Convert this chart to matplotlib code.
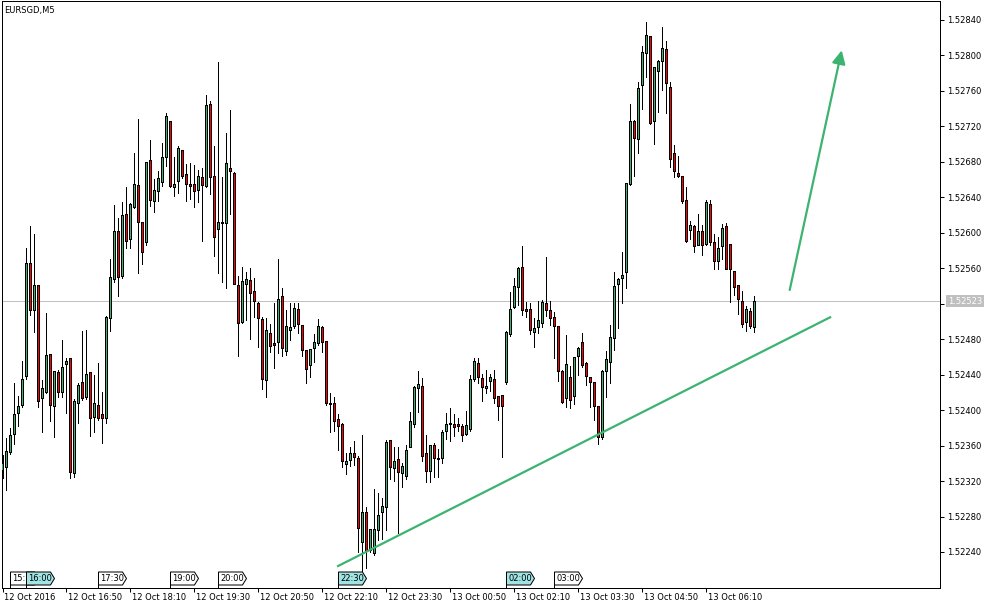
import matplotlib
matplotlib.use("Agg")
import matplotlib.pyplot as plt
import matplotlib.transforms as mtransforms
from matplotlib.patches import Polygon
import numpy as np

# EURSGD M5 캔들 (12 Oct 15:30 부터 5분봉)
symbol = "EURSGD,M5"

opens = [
    1.52332, 1.52335, 1.52352, 1.52372, 1.52396, 1.52405, 1.52438, 1.52565, 1.52512, 1.52540,
    1.52413, 1.52420, 1.52463, 1.52404, 1.52442, 1.52420, 1.52452, 1.52458, 1.52329, 1.52407,
    1.52431, 1.52414, 1.52442, 1.52392, 1.52405, 1.52395, 1.52390, 1.52503, 1.52547, 1.52602,
    1.52551, 1.52621, 1.52592, 1.52629, 1.52653, 1.52612, 1.52589, 1.52681, 1.52635, 1.52647,
    1.52657, 1.52685, 1.52726, 1.52651, 1.52658, 1.52693, 1.52666, 1.52654, 1.52655, 1.52648,
    1.52662, 1.52652, 1.52745, 1.52663, 1.52604, 1.52612, 1.52610, 1.52673, 1.52667, 1.52540,
    1.52499, 1.52542, 1.52546, 1.52534, 1.52520, 1.52502, 1.52433, 1.52486, 1.52475, 1.52476,
    1.52528, 1.52466, 1.52490, 1.52494, 1.52514, 1.52496, 1.52467, 1.52450, 1.52469, 1.52475,
    1.52493, 1.52477, 1.52408, 1.52408, 1.52389, 1.52384, 1.52339, 1.52343, 1.52351, 1.52346,
    1.52251, 1.52285, 1.52242, 1.52238, 1.52264, 1.52285, 1.52290, 1.52366, 1.52334, 1.52344,
    1.52328, 1.52325, 1.52358, 1.52384, 1.52424, 1.52427, 1.52351, 1.52331, 1.52360, 1.52344,
    1.52345, 1.52376, 1.52384, 1.52384, 1.52384, 1.52381, 1.52373, 1.52378, 1.52434, 1.52453,
    1.52436, 1.52424, 1.52432, 1.52435, 1.52415, 1.52416, 1.52431, 1.52485, 1.52516, 1.52538,
    1.52561, 1.52514, 1.52514, 1.52488, 1.52493, 1.52498, 1.52520, 1.52512, 1.52505, 1.52494,
    1.52444, 1.52413, 1.52437, 1.52415, 1.52460, 1.52476, 1.52453, 1.52437, 1.52431, 1.52404,
    1.52369, 1.52443, 1.52454, 1.52481, 1.52542, 1.52548, 1.52555, 1.52655, 1.52725, 1.52705,
    1.52766, 1.52802, 1.52821, 1.52725, 1.52782, 1.52793, 1.52807, 1.52764, 1.52689, 1.52667,
    1.52664, 1.52636, 1.52603, 1.52607, 1.52586, 1.52601, 1.52587, 1.52632, 1.52589, 1.52568,
    1.52584, 1.52607, 1.52587, 1.52556, 1.52540, 1.52523, 1.52499, 1.52511, 1.52493,
]
highs = [
    1.52349, 1.52369, 1.52380, 1.52431, 1.52416, 1.52455, 1.52583, 1.52608, 1.52599, 1.52540,
    1.52434, 1.52510, 1.52463, 1.52443, 1.52445, 1.52479, 1.52459, 1.52458, 1.52413, 1.52431,
    1.52489, 1.52490, 1.52442, 1.52440, 1.52453, 1.52420, 1.52506, 1.52570, 1.52631, 1.52617,
    1.52635, 1.52652, 1.52634, 1.52690, 1.52728, 1.52612, 1.52680, 1.52705, 1.52661, 1.52670,
    1.52701, 1.52735, 1.52726, 1.52685, 1.52698, 1.52693, 1.52678, 1.52679, 1.52676, 1.52671,
    1.52673, 1.52755, 1.52749, 1.52698, 1.52793, 1.52663, 1.52713, 1.52739, 1.52669, 1.52551,
    1.52561, 1.52556, 1.52560, 1.52549, 1.52522, 1.52505, 1.52504, 1.52497, 1.52521, 1.52570,
    1.52538, 1.52513, 1.52521, 1.52521, 1.52521, 1.52496, 1.52467, 1.52468, 1.52486, 1.52503,
    1.52495, 1.52477, 1.52419, 1.52415, 1.52396, 1.52385, 1.52352, 1.52358, 1.52365, 1.52348,
    1.52372, 1.52291, 1.52265, 1.52311, 1.52307, 1.52301, 1.52366, 1.52366, 1.52358, 1.52358,
    1.52340, 1.52361, 1.52398, 1.52427, 1.52444, 1.52436, 1.52372, 1.52361, 1.52363, 1.52356,
    1.52378, 1.52397, 1.52402, 1.52396, 1.52391, 1.52384, 1.52399, 1.52440, 1.52459, 1.52459,
    1.52441, 1.52445, 1.52441, 1.52445, 1.52416, 1.52417, 1.52489, 1.52533, 1.52549, 1.52561,
    1.52585, 1.52522, 1.52521, 1.52504, 1.52523, 1.52524, 1.52573, 1.52523, 1.52511, 1.52494,
    1.52445, 1.52485, 1.52450, 1.52460, 1.52471, 1.52487, 1.52454, 1.52437, 1.52432, 1.52404,
    1.52445, 1.52467, 1.52496, 1.52556, 1.52549, 1.52578, 1.52656, 1.52745, 1.52727, 1.52770,
    1.52811, 1.52838, 1.52821, 1.52786, 1.52795, 1.52832, 1.52816, 1.52770, 1.52699, 1.52687,
    1.52664, 1.52652, 1.52613, 1.52609, 1.52621, 1.52609, 1.52637, 1.52637, 1.52599, 1.52595,
    1.52610, 1.52611, 1.52587, 1.52556, 1.52540, 1.52534, 1.52517, 1.52515, 1.52529,
]
lows = [
    1.52323, 1.52310, 1.52351, 1.52362, 1.52382, 1.52404, 1.52435, 1.52507, 1.52488, 1.52404,
    1.52375, 1.52419, 1.52388, 1.52370, 1.52415, 1.52415, 1.52397, 1.52323, 1.52325, 1.52385,
    1.52411, 1.52413, 1.52371, 1.52375, 1.52389, 1.52363, 1.52385, 1.52489, 1.52545, 1.52529,
    1.52549, 1.52583, 1.52583, 1.52628, 1.52555, 1.52565, 1.52586, 1.52630, 1.52623, 1.52636,
    1.52653, 1.52675, 1.52652, 1.52642, 1.52645, 1.52662, 1.52636, 1.52638, 1.52629, 1.52635,
    1.52591, 1.52652, 1.52644, 1.52574, 1.52555, 1.52545, 1.52538, 1.52621, 1.52542, 1.52461,
    1.52498, 1.52502, 1.52480, 1.52505, 1.52471, 1.52424, 1.52415, 1.52466, 1.52448, 1.52464,
    1.52461, 1.52462, 1.52479, 1.52493, 1.52487, 1.52461, 1.52431, 1.52437, 1.52454, 1.52473,
    1.52466, 1.52406, 1.52375, 1.52376, 1.52355, 1.52336, 1.52328, 1.52337, 1.52338, 1.52240,
    1.52219, 1.52222, 1.52240, 1.52237, 1.52254, 1.52255, 1.52265, 1.52322, 1.52320, 1.52261,
    1.52313, 1.52322, 1.52358, 1.52381, 1.52398, 1.52343, 1.52319, 1.52319, 1.52325, 1.52325,
    1.52340, 1.52367, 1.52365, 1.52371, 1.52376, 1.52365, 1.52372, 1.52376, 1.52433, 1.52431,
    1.52410, 1.52419, 1.52422, 1.52408, 1.52389, 1.52347, 1.52429, 1.52484, 1.52515, 1.52519,
    1.52507, 1.52505, 1.52486, 1.52471, 1.52487, 1.52494, 1.52506, 1.52496, 1.52459, 1.52433,
    1.52408, 1.52404, 1.52402, 1.52407, 1.52440, 1.52449, 1.52428, 1.52404, 1.52389, 1.52362,
    1.52367, 1.52415, 1.52431, 1.52468, 1.52493, 1.52521, 1.52538, 1.52654, 1.52664, 1.52690,
    1.52740, 1.52776, 1.52723, 1.52700, 1.52736, 1.52761, 1.52735, 1.52674, 1.52663, 1.52663,
    1.52634, 1.52590, 1.52593, 1.52578, 1.52586, 1.52575, 1.52586, 1.52586, 1.52559, 1.52559,
    1.52570, 1.52559, 1.52522, 1.52530, 1.52508, 1.52494, 1.52489, 1.52493, 1.52488,
]
closes = [
    1.52340, 1.52353, 1.52371, 1.52395, 1.52404, 1.52434, 1.52565, 1.52512, 1.52541, 1.52410,
    1.52424, 1.52462, 1.52405, 1.52443, 1.52420, 1.52448, 1.52455, 1.52330, 1.52410, 1.52428,
    1.52413, 1.52440, 1.52391, 1.52407, 1.52391, 1.52391, 1.52504, 1.52550, 1.52601, 1.52550,
    1.52619, 1.52590, 1.52632, 1.52655, 1.52612, 1.52578, 1.52679, 1.52636, 1.52648, 1.52661,
    1.52685, 1.52731, 1.52652, 1.52655, 1.52695, 1.52663, 1.52654, 1.52652, 1.52646, 1.52663,
    1.52653, 1.52744, 1.52662, 1.52595, 1.52612, 1.52611, 1.52678, 1.52669, 1.52542, 1.52498,
    1.52545, 1.52547, 1.52532, 1.52523, 1.52503, 1.52434, 1.52490, 1.52472, 1.52473, 1.52525,
    1.52469, 1.52494, 1.52493, 1.52515, 1.52497, 1.52467, 1.52446, 1.52468, 1.52476, 1.52494,
    1.52476, 1.52407, 1.52406, 1.52387, 1.52382, 1.52342, 1.52342, 1.52351, 1.52347, 1.52267,
    1.52285, 1.52240, 1.52265, 1.52265, 1.52281, 1.52291, 1.52364, 1.52335, 1.52342, 1.52330,
    1.52336, 1.52355, 1.52387, 1.52425, 1.52429, 1.52348, 1.52331, 1.52360, 1.52345, 1.52346,
    1.52375, 1.52384, 1.52385, 1.52380, 1.52381, 1.52371, 1.52383, 1.52435, 1.52455, 1.52437,
    1.52425, 1.52427, 1.52437, 1.52413, 1.52404, 1.52404, 1.52487, 1.52514, 1.52539, 1.52560,
    1.52512, 1.52511, 1.52490, 1.52492, 1.52501, 1.52521, 1.52512, 1.52503, 1.52494, 1.52444,
    1.52409, 1.52451, 1.52411, 1.52459, 1.52470, 1.52450, 1.52438, 1.52431, 1.52404, 1.52369,
    1.52444, 1.52457, 1.52482, 1.52539, 1.52547, 1.52552, 1.52656, 1.52726, 1.52706, 1.52763,
    1.52803, 1.52822, 1.52723, 1.52786, 1.52793, 1.52808, 1.52768, 1.52683, 1.52669, 1.52664,
    1.52635, 1.52590, 1.52608, 1.52584, 1.52602, 1.52586, 1.52634, 1.52589, 1.52568, 1.52582,
    1.52605, 1.52559, 1.52559, 1.52538, 1.52525, 1.52497, 1.52513, 1.52494, 1.52523,
]
last_price = 1.52523

# 시간축 (16봉 간격)
time_tick_pos = [0, 16, 32, 48, 64, 80, 96, 112, 128, 144, 160, 176]
time_tick_labels = ["12 Oct 2016", "12 Oct 16:50", "12 Oct 18:10", "12 Oct 19:30",
                    "12 Oct 20:50", "12 Oct 22:10", "12 Oct 23:30", "13 Oct 00:50",
                    "13 Oct 02:10", "13 Oct 03:30", "13 Oct 04:50", "13 Oct 06:10"]
price_ticks = [1.52240, 1.52280, 1.52320, 1.52360, 1.52400, 1.52440, 1.52480, 1.52520,
               1.52560, 1.52600, 1.52640, 1.52680, 1.52720, 1.52760, 1.52800, 1.52840]

# 이벤트 플래그
flag_pos = [2, 6, 24, 42, 54, 84, 126, 138]
flag_labels = ["15:", "16:00", "17:30", "19:00", "20:00", "22:30", "02:00", "03:00"]
flag_marked = [False, True, False, False, False, True, True, False]

# 추세선 / 화살표
trend_x = [83.9, 206.9]
trend_y = [1.522242, 1.525047]
arrow_start = (196.8, 1.525355)
arrow_end = (209.8, 1.528058)

GREEN = "#3cb371"
W, H = 993, 609
PX = 0.72  # 1px in points
fig = plt.figure(figsize=(W / 100, H / 100), dpi=100)
ax = fig.add_axes([2.0 / W, (H - 588) / H, (940.5 - 2.0) / W, (588 - 1) / H])
ax.set_xlim(-0.125, 234.5)
ax.set_ylim(1.521994, 1.528614)
ypx = (1.528614 - 1.521994) / 587  # 1px in price

o = np.array(opens)
h = np.array(highs)
l = np.array(lows)
c = np.array(closes)
idx = np.arange(len(o))
up = c >= o
body_lo = np.minimum(o, c)
body_hi = np.maximum(o, c)

ax.axhline(last_price, color="#c0c0c0", lw=PX, zorder=0.5)
ax.vlines(idx, l, h, colors="black", lw=PX, zorder=2, antialiased=False)
# 검은 테두리 몸통 + 안쪽 색
ax.bar(idx, body_hi - body_lo + ypx, bottom=body_lo - ypx / 2, width=0.75,
       color="black", linewidth=0, zorder=3, antialiased=False)
inner_h = np.maximum(body_hi - body_lo - ypx, 0)
ax.bar(idx, inner_h, bottom=body_lo + ypx / 2, width=0.25,
       color=np.where(up, GREEN, "#ff0000"), linewidth=0, zorder=3.5, antialiased=False)

ax.plot(trend_x, trend_y, color=GREEN, lw=1.6, zorder=4)
ax.annotate("", xy=arrow_end, xytext=arrow_start,
            arrowprops=dict(arrowstyle="-|>", color=GREEN, lw=1.6,
                            mutation_scale=20, shrinkA=0, shrinkB=0), zorder=4)

for s in ax.spines.values():
    s.set_linewidth(PX)
    s.set_color("black")

ax.yaxis.tick_right()
ax.set_yticks(price_ticks)
ax.set_yticklabels(["" if abs(p - 1.5252) < 1e-9 else f"{p:.5f}" for p in price_ticks])
ax.tick_params(axis="y", direction="out", length=2.9, width=PX, pad=2.2, labelsize=6)
ax.set_xticks(time_tick_pos)
ax.set_xticklabels([])
ax.tick_params(axis="x", direction="out", length=2.9, width=PX)

off = mtransforms.ScaledTranslation(1.2 / 100, -12.5 / 100, fig.dpi_scale_trans)
for pos, lab in zip(time_tick_pos, time_tick_labels):
    ax.text(pos, 0, lab, transform=ax.get_xaxis_transform() + off,
            ha="left", va="baseline", fontsize=6, clip_on=False)

# 현재가 라벨
poff = mtransforms.ScaledTranslation(7.5 / 100, 0, fig.dpi_scale_trans)
ax.text(1, last_price, f"{last_price:.5f}", transform=ax.get_yaxis_transform() + poff,
        ha="left", va="center", fontsize=6, color="white", zorder=6, clip_on=False,
        bbox=dict(boxstyle="square,pad=0.2", fc="#c0c0c0", ec="none"))

fig.text(4 / W, 1 - 13 / H, symbol, ha="left", va="baseline", fontsize=6)

# 플래그 그리기 (픽셀 단위 모양)
inv = ax.transAxes.inverted()
for k, (pos, lab, mark) in enumerate(zip(flag_pos, flag_labels, flag_marked)):
    x0 = ax.transData.transform((pos, 1.525))[0]
    verts = [(x0, H - 588), (x0, H - 572), (x0 + 24, H - 572), (x0 + 28, H - 578.5),
             (x0 + 24, H - 585), (x0, H - 585)]
    poly = Polygon(inv.transform(verts), closed=True, transform=ax.transAxes,
                   fc="#a0e4e4" if mark else "white", ec="black", lw=PX,
                   clip_on=False, zorder=10 + 2 * k)
    ax.add_patch(poly)
    tx, ty = inv.transform((x0 + 2, H - 578.5))
    ax.text(tx, ty, lab, transform=ax.transAxes, ha="left", va="center",
            fontsize=6, zorder=11 + 2 * k, clip_on=False)

fig.savefig("out.png", dpi=100)
